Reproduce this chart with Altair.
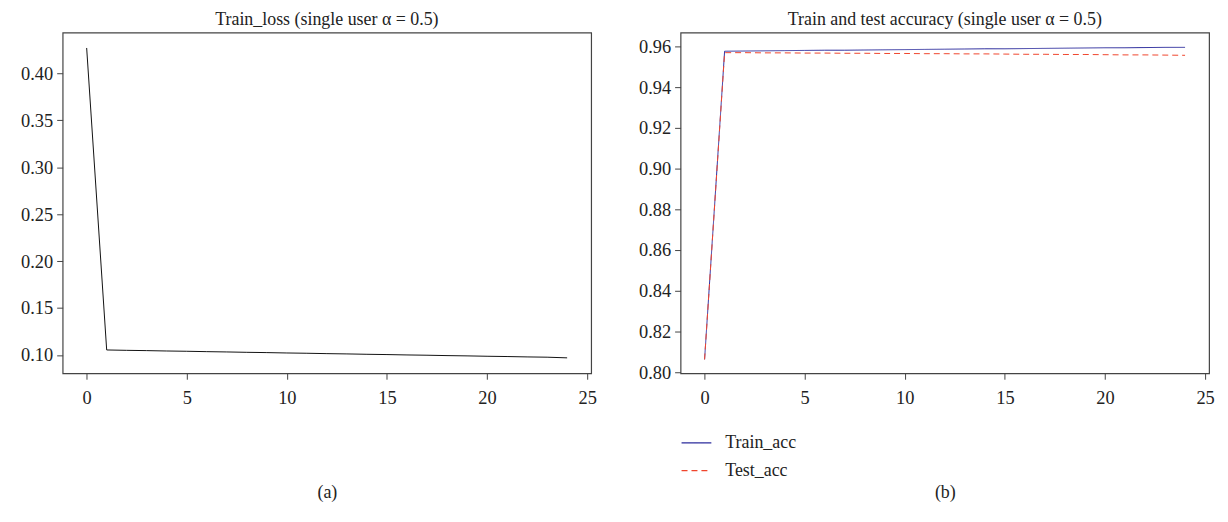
import altair as alt
import pandas as pd

epochs = list(range(25))
train_loss = [0.427, 0.1053, 0.1049, 0.1046, 0.1042, 0.1039, 0.1035, 0.1032, 0.1028,
              0.1025, 0.1021, 0.1018, 0.1014, 0.1011, 0.1007, 0.1004, 0.1000, 0.0997,
              0.0993, 0.0990, 0.0986, 0.0983, 0.0979, 0.0976, 0.0969]
train_acc = [0.8063, 0.9576, 0.9577, 0.9578, 0.9579, 0.9580, 0.9581, 0.9581, 0.9582,
             0.9583, 0.9584, 0.9585, 0.9586, 0.9587, 0.9588, 0.9588, 0.9589, 0.9590,
             0.9591, 0.9592, 0.9593, 0.9593, 0.9594, 0.9595, 0.9595]
test_acc = [0.8063, 0.9569, 0.9569, 0.9568, 0.9568, 0.9567, 0.9567, 0.9566, 0.9566,
            0.9565, 0.9565, 0.9564, 0.9564, 0.9563, 0.9563, 0.9562, 0.9561, 0.9561,
            0.9560, 0.9560, 0.9559, 0.9558, 0.9558, 0.9557, 0.9556]
series_names = ["Train_acc", "Test_acc"]
x_ticks = [0, 5, 10, 15, 20, 25]
loss_ticks = [0.10, 0.15, 0.20, 0.25, 0.30, 0.35, 0.40]
acc_ticks = [0.80, 0.82, 0.84, 0.86, 0.88, 0.90, 0.92, 0.94, 0.96]

FONT = "Liberation Serif"
AX = "#444444"
TXT = "#222222"

loss_df = pd.DataFrame({"epoch": epochs, "loss": train_loss})
acc_df = pd.DataFrame({
    "epoch": epochs * 2,
    "acc": train_acc + test_acc,
    "series": [series_names[0]] * 25 + [series_names[1]] * 25,
})

def xaxis(title):
    return alt.X("epoch:Q", scale=alt.Scale(domain=[-1.2, 25.2], nice=False, zero=False),
                 axis=alt.Axis(values=x_ticks, title=title, titlePadding=78,
                               titleFontWeight="normal", titleFontSize=18, titleFont=FONT,
                               titleColor=TXT, format="d", labelPadding=9))

left = alt.Chart(loss_df).mark_line(color="#111111", strokeWidth=1).encode(
    x=xaxis("(a)"),
    y=alt.Y("loss:Q", scale=alt.Scale(domain=[0.0805, 0.4435], nice=False, zero=False),
            axis=alt.Axis(values=loss_ticks, format=".2f", title=None)),
).properties(width=532, height=343,
             title=alt.TitleParams("Train_loss (single user \u03b1 = 0.5)"))

right = alt.Chart(acc_df).mark_line(strokeWidth=1).encode(
    x=xaxis("(b)"),
    y=alt.Y("acc:Q", scale=alt.Scale(domain=[0.7995, 0.9668], nice=False, zero=False),
            axis=alt.Axis(values=acc_ticks, format=".2f", title=None)),
    color=alt.Color("series:N", scale=alt.Scale(domain=series_names, range=["#2b2b9c", "#f0452c"]),
                    legend=alt.Legend(title=None, orient="none", legendX=622, legendY=397,
                                      symbolType="stroke", symbolSize=900, symbolStrokeWidth=1.2,
                                      labelFont=FONT, labelFontSize=18, labelColor=TXT,
                                      rowPadding=3, labelOffset=13)),
    strokeDash=alt.StrokeDash("series:N", scale=alt.Scale(domain=series_names, range=[[1, 0], [6, 4]]),
                              legend=None),
    order=alt.Order("epoch:Q"),
).properties(width=532, height=343,
             title=alt.TitleParams("Train and test accuracy (single user \u03b1 = 0.5)"))

chart = alt.hconcat(left, right, spacing=41).properties(
    padding={"left": 12, "top": 0, "right": 5, "bottom": 5}
).configure_view(stroke=AX, strokeWidth=1.2).configure_axis(
    labelFont=FONT, labelFontSize=18.5, labelColor=TXT, grid=False,
    domain=False, tickColor=AX, tickSize=6, labelPadding=4,
).configure_title(font=FONT, fontSize=18, fontWeight="normal", color=TXT, offset=4)

chart.save("out.html", embed_options={"renderer": "svg", "actions": False})
